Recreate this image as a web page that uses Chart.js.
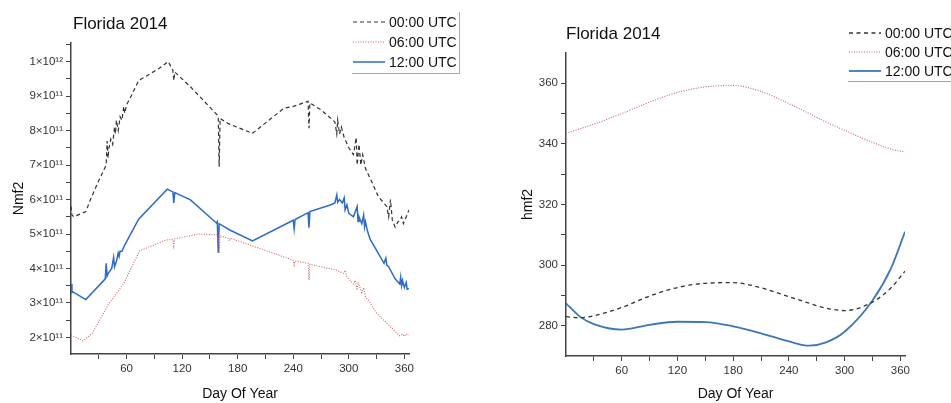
<!DOCTYPE html>
<html>
<head>
<meta charset="utf-8">
<script src="https://cdn.jsdelivr.net/npm/chart.js@4.4.1/dist/chart.umd.min.js"></script>
<style>
body{margin:0;background:#fff;width:951px;height:403px;overflow:hidden;position:relative}
#nmf{position:absolute;left:0;top:0}
#hmf{position:absolute;left:480px;top:0}
</style>
</head>
<body>
<canvas id="nmf" width="480" height="403"></canvas>
<canvas id="hmf" width="471" height="403"></canvas>
<script>
// left panel: NmF2 (units of 1e11) per day of year
const days00 = [0,1,3,16,21,30,38,39,40,41,43,45,47,48,49,51,53,55,57,58,60,65,73,95,105,110,111,112,129,158,159,160,161,170,196,230,240,256,257,258,270,285,287,288,290,292,295,300,305,308,309,311,313,315,318,325,332,341,343,345,347,350,353,355,357,359,362,365];
const nmf00 = [5.8,5.55,5.5,5.65,6.0,6.55,7.0,7.7,7.2,7.5,7.75,7.6,8.1,7.9,8.3,8.0,8.4,8.3,8.7,8.5,8.75,9.0,9.45,9.8,10.0,9.75,9.45,9.7,9.27,8.45,8.4,6.95,8.35,8.2,7.92,8.65,8.7,8.85,8.07,8.8,8.6,8.25,7.9,8.3,7.9,8.1,7.8,7.5,7.3,7.8,7.0,7.6,7.0,7.3,6.9,6.5,6.08,5.8,5.5,6.0,5.4,5.2,5.35,5.4,5.5,5.3,5.5,5.7];

const days06 = [0,13,23,39,40,48,57,74,102,110,111,112,138,159,160,161,170,171,172,240,241,242,256,257,258,287,294,296,298,300,305,307,309,310,312,314,316,318,322,330,341,352,355,358,360,362,365];
const nmf06 = [2.07,1.9,2.12,2.89,2.95,3.23,3.57,4.51,4.82,4.85,4.65,4.86,5.0,4.97,4.45,4.95,4.87,4.8,4.88,4.24,4.1,4.22,4.15,3.66,4.12,3.95,3.86,3.95,3.75,3.7,3.55,3.65,3.37,3.6,3.45,3.3,3.45,3.18,3.05,2.7,2.41,2.12,2.05,2.1,2.03,2.1,2.07];

const days12 = [0,1,2,16,37,38,39,40,44,46,47,49,51,52,53,55,58,73,104,110,111,112,129,157,158,159,160,172,196,240,241,242,256,257,258,280,285,287,288,290,293,295,296,298,300,305,309,310,311,314,316,317,318,320,323,338,340,341,343,350,355,356,357,358,360,362,363,365];
const nmf12 = [3.55,3.3,3.32,3.1,3.7,4.15,3.78,3.85,4.0,4.32,4.05,4.2,4.45,4.35,4.5,4.5,4.68,5.43,6.3,6.22,5.9,6.2,5.99,5.32,5.36,4.46,5.3,5.11,4.8,5.4,5.15,5.42,5.62,5.18,5.65,5.84,5.9,6.13,5.92,6.0,5.9,6.05,5.7,5.85,5.6,5.5,5.8,5.36,5.5,5.3,5.55,5.2,5.35,5.1,4.85,4.15,4.3,4.1,4.05,3.7,3.55,3.75,3.5,3.65,3.45,3.6,3.4,3.42];

// right panel: hmF2 (km), smooth fits
const daysH = [0,15,30,60,90,120,150,180,210,240,262,280,300,330,350,365];
const hmf00 = [283,282.6,283.3,286,289.8,292.6,294,294.2,292.5,289.6,287.4,285.8,285,287.8,292.5,298];
const hmf06 = [343.5,345,346.5,350,353.8,357,358.8,359.3,357.3,353.3,350,347.2,344.5,340.5,338.3,337.3];
const hmf12 = [287.4,283,280.5,278.7,280.3,281.3,281.2,279.8,277.5,274.8,273.4,274.5,278,288.3,299,311];

const labels = ['00:00 UTC', '06:00 UTC', '12:00 UTC'];
const dayTicks = [60,120,180,240,300,360];
const dayMinor = [30,90,150,210,270,330];
const nmfTicks = [2,3,4,5,6,7,8,9,10];
const nmfMinor = [2.5,3.5,4.5,5.5,6.5,7.5,8.5,9.5,10.5];
const hmfTicks = [280,300,320,340,360];
const hmfMinor = [290,310,330,350];

const FONT = '"Liberation Sans", Arial, sans-serif';
Chart.defaults.font.family = FONT;

function pts(xs, ys){
  return xs.map((d, i) => ({x: d, y: ys[i]}));
}

// title, legend and legend frame drawn on top of the chart
const decor = {
  id: 'decor',
  afterDraw(chart, args, o){
    const ctx = chart.ctx;
    ctx.save();
    ctx.textBaseline = 'middle';
    ctx.fillStyle = '#111';
    ctx.font = '17px ' + FONT;
    ctx.fillText(o.title, o.titleX, o.titleY);
    ctx.font = '14px ' + FONT;
    chart.data.datasets.forEach((ds, i) => {
      const y = o.legendY[i];
      ctx.strokeStyle = ds.borderColor;
      ctx.lineWidth = ds.borderWidth;
      ctx.setLineDash(ds.borderDash || []);
      ctx.beginPath();
      ctx.moveTo(o.legendX, y);
      ctx.lineTo(o.legendX + 32, y);
      ctx.stroke();
      ctx.setLineDash([]);
      ctx.fillStyle = '#111';
      ctx.fillText(ds.label, o.legendX + 36, y + 1);
    });
    ctx.strokeStyle = o.frameColor;
    ctx.lineWidth = 1;
    ctx.beginPath();
    o.frame.forEach((p, i) => i ? ctx.lineTo(p[0], p[1]) : ctx.moveTo(p[0], p[1]));
    ctx.stroke();
    ctx.restore();
  }
};

function axisX(h, titlePad){
  return {
    type: 'linear', min: 0, max: 365,
    afterBuildTicks: s => { s.ticks = dayMinor.concat(dayTicks).sort((a, b) => a - b).map(v => ({value: v})); },
    afterFit: s => { s.height = h; },
    ticks: {autoSkip: false, maxRotation: 0, padding: 3, color: '#333', font: {size: 11.5},
      callback: v => dayTicks.includes(v) ? String(v) : ''},
    grid: {drawOnChartArea: false, tickLength: 5, color: '#444'},
    border: {color: '#444', width: 1.5},
    title: {display: true, text: 'Day Of Year', color: '#111', font: {size: 14}, padding: titlePad}
  };
}

function axisY(w, min, max, major, minor, fmt, text, titlePad){
  return {
    min: min, max: max,
    afterBuildTicks: s => { s.ticks = minor.concat(major).sort((a, b) => a - b).map(v => ({value: v})); },
    afterFit: s => { s.width = w; },
    ticks: {autoSkip: false, padding: 3, color: '#333', font: {size: 11.5},
      callback: v => major.includes(v) ? fmt(v) : ''},
    grid: {drawOnChartArea: false, tickLength: 5, color: '#444'},
    border: {color: '#444', width: 1.5},
    title: {display: true, text: text, color: '#111', font: {size: 14}, padding: titlePad}
  };
}

new Chart(document.getElementById('nmf'), {
  type: 'line',
  data: {
    datasets: [
      {label: labels[0], data: pts(days00, nmf00), borderColor: '#333', borderWidth: 1.2, borderDash: [4, 3]},
      {label: labels[1], data: pts(days06, nmf06), borderColor: '#cc6666', borderWidth: 1.1, borderDash: [1, 1.5]},
      {label: labels[2], data: pts(days12, nmf12), borderColor: '#2e6bc6', borderWidth: 1.5}
    ]
  },
  options: {
    responsive: false, animation: false,
    elements: {point: {radius: 0}, line: {tension: 0, fill: false}},
    layout: {padding: {left: 0, top: 43, right: 71, bottom: 0}},
    scales: {
      x: axisX(49, {top: 0, bottom: 0}),
      y: axisY(71, 1.52, 10.54, nmfTicks, nmfMinor,
        v => v === 10 ? '1×10¹²' : v + '×10¹¹', 'Nmf2', {top: 11, bottom: 0})
    },
    plugins: {
      legend: {display: false}, tooltip: {enabled: false},
      decor: {title: 'Florida 2014', titleX: 73, titleY: 24, legendX: 353, legendY: [22, 42, 62],
        frameColor: '#aaa', frame: [[459.5, 12], [459.5, 73.5], [352, 73.5]]}
    }
  },
  plugins: [decor]
});

new Chart(document.getElementById('hmf'), {
  type: 'line',
  data: {
    datasets: [
      {label: labels[0], data: pts(daysH, hmf00), borderColor: '#333', borderWidth: 1.3, borderDash: [4, 3.5]},
      {label: labels[1], data: pts(daysH, hmf06), borderColor: '#c06868', borderWidth: 1.1, borderDash: [1, 1.5]},
      {label: labels[2], data: pts(daysH, hmf12), borderColor: '#3d77b6', borderWidth: 1.8}
    ]
  },
  options: {
    responsive: false, animation: false,
    elements: {point: {radius: 0}, line: {cubicInterpolationMode: 'monotone', fill: false}},
    layout: {padding: {left: 0, top: 53, right: 46, bottom: 0}},
    scales: {
      x: axisX(47, {top: 0, bottom: 0}),
      y: axisY(86, 270, 370, hmfTicks, hmfMinor, v => String(v), 'hmf2', {top: 40, bottom: 0})
    },
    plugins: {
      legend: {display: false}, tooltip: {enabled: false},
      decor: {title: 'Florida 2014', titleX: 86, titleY: 34, legendX: 369, legendY: [33, 52, 71],
        frameColor: '#9ab', frame: [[368, 81.5], [471, 81.5]]}
    }
  },
  plugins: [decor]
});
</script>
</body>
</html>
